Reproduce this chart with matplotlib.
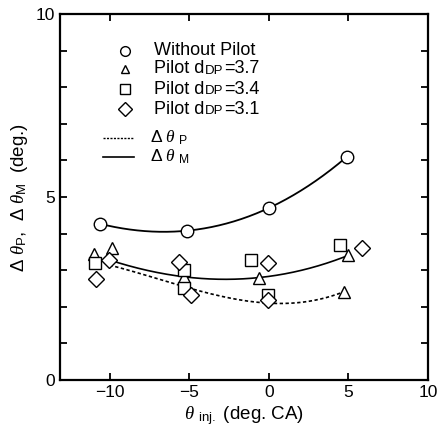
import numpy as np
import matplotlib
matplotlib.use("Agg")
import matplotlib.pyplot as plt

plt.rcParams['font.family'] = ['Liberation Sans', 'DejaVu Sans']
plt.rcParams['mathtext.fontset'] = 'custom'
plt.rcParams['mathtext.rm'] = 'Liberation Sans'
plt.rcParams['mathtext.it'] = 'Liberation Serif:italic'
plt.rcParams['mathtext.bf'] = 'Liberation Sans:bold'

# ---- data ----
x_without = [-10.6, -5.15, 0.0, 4.9]
y_without = [4.27, 4.08, 4.70, 6.10]

x_37 = [-11.0, -9.85, -5.3, -0.6, 5.0, 4.75]
y_37 = [3.44, 3.61, 2.82, 2.80, 3.42, 2.41]

x_34 = [-10.9, -5.3, -5.3, -1.1, -0.05, 4.45]
y_34 = [3.19, 3.00, 2.51, 3.28, 2.32, 3.69]

x_31 = [-10.85, -10.05, -5.65, -4.9, -0.05, -0.05, 5.85]
y_31 = [2.76, 3.28, 3.23, 2.32, 3.19, 2.19, 3.60]

# trend curve anchors
xp_curve = [-10.0, -5.3, 0.0, 4.7]
yp_curve = [3.14, 2.55, 2.10, 2.41]
xm_curve = [-10.0, -5.3, -0.6, 4.9]
ym_curve = [3.28, 2.82, 2.80, 3.39]

x_ticks = [-10, -5, 0, 5, 10]
y_ticks = [0, 5, 10]

# ---- figure ----
fig = plt.figure(figsize=(4.39, 4.33), dpi=100)
ax = fig.add_axes([0.137, 0.1224, 0.838, 0.845])

def smooth(xs, ys, deg=3):
    c = np.polyfit(xs, ys, deg)
    xx = np.linspace(min(xs), max(xs), 200)
    return xx, np.polyval(c, xx)

xx, yy = smooth(x_without, y_without)
ax.plot(xx, yy, color='black', lw=1.3, zorder=2)
xx, yy = smooth(xm_curve, ym_curve)
ax.plot(xx, yy, color='black', lw=1.2, zorder=2)
xx, yy = smooth(xp_curve, yp_curve)
ax.plot(xx, yy, color='black', lw=1.2, ls=(0, (2, 1.5)), zorder=2)

mk = dict(mfc='white', mec='black', mew=1.0, ls='none', zorder=3)
ax.plot(x_without, y_without, marker='o', ms=9, **mk)
ax.plot(x_37, y_37, marker='^', ms=8, **mk)
ax.plot(x_34, y_34, marker='s', ms=8, **mk)
ax.plot(x_31, y_31, marker='D', ms=8, **mk)

ax.set_xlim(-13.1, 10)
ax.set_ylim(0, 10)
ax.set_xticks(x_ticks)
ax.set_yticks(y_ticks)
ax.set_yticks(np.arange(0, 11, 1), minor=True)
ax.tick_params(axis='both', which='both', direction='in', labelsize=12.5,
               width=1.3, length=5, top=True, right=True)
ax.set_xticklabels(['\u221210', '\u22125', '0', '5', '10'])
for s in ax.spines.values():
    s.set_linewidth(1.6)

ax.set_xlabel(r'$\theta$ $_{\mathrm{inj.}}$ (deg. CA)', fontsize=13.5, labelpad=3)
ax.set_ylabel(r'$\Delta\ \theta_{\mathrm{P}}$,  $\Delta\ \theta_{\mathrm{M}}$  (deg.)',
              fontsize=13.5, labelpad=4)

# ---- manual legend ----
lx_m, lx_t = -9.05, -7.2
rows_y = [9.0, 8.5, 7.95, 7.4]
mk_legend = [('o', 7), ('^', 6), ('s', 7), ('D', 7)]
labels = ['Without Pilot', 'Pilot d', 'Pilot d', 'Pilot d']
subs = [None, 'DP', 'DP', 'DP']
vals = [None, '=3.7', '=3.4', '=3.1']
for (m, s), ly, lab, sb, v in zip(mk_legend, rows_y, labels, subs, vals):
    ax.plot([lx_m], [ly], marker=m, ms=s, mfc='white', mec='black', mew=1.0, ls='none')
    t = ax.text(lx_t, ly, lab, fontsize=13, va='center', ha='left')
    if sb:
        t2 = ax.annotate(sb, xy=(1, 0), xycoords=t, fontsize=9.5, va='bottom', ha='left',
                         xytext=(0.5, 0.5), textcoords='offset points')
        ax.annotate(v, xy=(1, 0), xycoords=t2, fontsize=13, va='bottom', ha='left',
                    xytext=(0, -0.5), textcoords='offset points')

ly1, ly2 = 6.62, 6.1
ax.plot([-10.4, -8.45], [ly1, ly1], color='black', lw=1.0, ls=(0, (1.5, 1.0)))
ax.plot([-10.4, -8.45], [ly2, ly2], color='black', lw=1.2)
ax.text(-7.45, ly1, r'$\Delta\ \theta\ _{\mathrm{P}}$', fontsize=12.5, va='center', ha='left')
ax.text(-7.45, ly2, r'$\Delta\ \theta\ _{\mathrm{M}}$', fontsize=12.5, va='center', ha='left')

fig.savefig('out.png', dpi=100)
